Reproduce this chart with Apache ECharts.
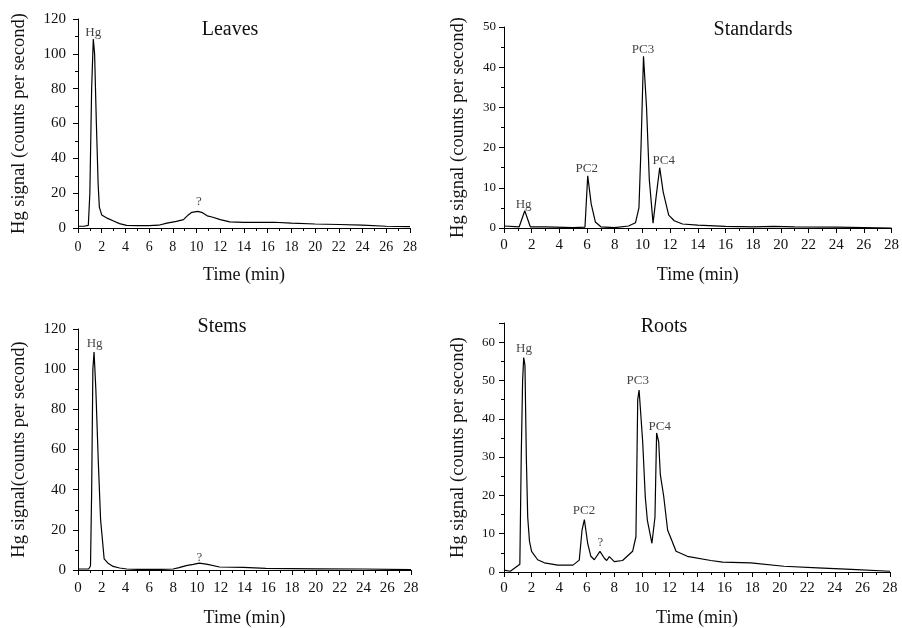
<!DOCTYPE html>
<html><head><meta charset="utf-8">
<script src="https://cdn.jsdelivr.net/npm/echarts@6/dist/echarts.min.js"></script>
<style>html,body{margin:0;padding:0;background:#fff}#c{width:902px;height:628px}</style>
</head><body><div id="c"></div>
<script>
// ---- Data ----
const panelTitles = ['Leaves', 'Standards', 'Stems', 'Roots'];
const yAxisNames = ['Hg signal (counts per second)', 'Hg signal (counts per second)', 'Hg signal(counts per second)', 'Hg signal (counts per second)'];
const xAxisName = 'Time (min)';
const yMax = [120, 50, 120, 65];
const yInterval = [20, 10, 20, 10];

const leavesTime = [0, 0.5, 0.87, 1.0, 1.15, 1.29, 1.4, 1.55, 1.7, 1.8, 2.0, 2.5, 3.0, 3.5, 4.1, 5, 6, 6.8, 7.5, 8.3, 8.9, 9.3, 9.6, 10.1, 10.5, 10.9, 11.3, 12, 12.8, 14, 16.5, 18, 20, 22, 24, 26, 28];
const leavesSignal = [1, 1, 1.5, 20, 80, 108.5, 100, 60, 25, 12, 7.5, 5.5, 4, 2.5, 1.5, 1.4, 1.4, 1.6, 2.8, 3.8, 4.8, 7.5, 9, 9.5, 8.8, 7, 6.3, 4.8, 3.5, 3.2, 3.3, 2.8, 2.3, 2, 1.6, 1, 0.8];

const standardsTime = [0, 1.1, 1.5, 1.9, 3, 5, 5.85, 6.05, 6.3, 6.6, 7, 8, 9, 9.5, 9.75, 9.9, 10.08, 10.3, 10.5, 10.77, 11.0, 11.25, 11.5, 11.9, 12.3, 12.9, 14, 16, 18, 19.5, 21, 24, 28];
const standardsSignal = [0.5, 0.3, 4.3, 0.3, 0.3, 0.1, 0.2, 13, 6, 1.5, 0.3, 0.1, 0.5, 1.3, 5, 20, 42.7, 30, 12, 1.2, 8, 15, 9, 3.2, 1.8, 1, 0.7, 0.4, 0.3, 0.4, 0.3, 0.2, 0];

const stemsTime = [0, 0.9, 1.05, 1.15, 1.25, 1.35, 1.5, 1.7, 1.9, 2.2, 2.5, 2.95, 3.5, 4.1, 5, 6, 7, 8, 8.5, 9.1, 9.7, 10.2, 10.9, 11.9, 13.9, 15.8, 18, 20, 24, 28];
const stemsSignal = [0.5, 0.5, 2, 40, 100, 108.5, 90, 55, 25, 5.5, 3.5, 1.8, 1, 0.5, 0.3, 0.3, 0.3, 0.5, 1.2, 2.2, 2.8, 3.4, 2.8, 1.5, 1.3, 0.8, 0.7, 0.6, 0.5, 0.2];

const rootsTime = [0, 0.46, 1.15, 1.25, 1.35, 1.43, 1.52, 1.62, 1.72, 1.85, 2.0, 2.44, 2.93, 3.9, 5.0, 5.46, 5.66, 5.83, 6.07, 6.3, 6.55, 6.96, 7.28, 7.45, 7.64, 8.0, 8.6, 9.33, 9.57, 9.7, 9.8, 9.9, 10.06, 10.25, 10.4, 10.73, 10.95, 11.07, 11.22, 11.34, 11.58, 11.87, 12.11, 12.48, 13.3, 15.0, 15.86, 17.9, 20.3, 22.75, 25.2, 28];
const rootsSignal = [0.5, 0.2, 2, 30, 50, 56, 54, 30, 14.3, 8, 5.4, 3.2, 2.4, 1.8, 1.8, 3.1, 10.9, 13.7, 7.5, 4.1, 3.2, 5.4, 3.6, 3.0, 4.0, 2.7, 3.0, 5.4, 9.2, 45, 47.5, 48, 34, 19.5, 13.5, 7.5, 14.3, 36.3, 34, 25.4, 19.9, 10.9, 8.8, 5.4, 4.1, 3.0, 2.6, 2.4, 1.5, 1.1, 0.7, 0.2];

// peak annotations: [time, signal, text]
const leavesPeaks = [[1.29, 112, 'Hg'], [10.2, 15, '?']];
const standardsPeaks = [[1.42, 5.9, 'Hg'], [5.98, 14.8, 'PC2'], [10.04, 44.3, 'PC3'], [11.54, 16.7, 'PC4']];
const stemsPeaks = [[1.4, 112.5, 'Hg'], [10.2, 6.3, '?']];
const rootsPeaks = [[1.45, 58.4, 'Hg'], [5.8, 16, 'PC2'], [7.0, 7.6, '?'], [9.7, 50, 'PC3'], [11.3, 38, 'PC4']];

// ---- Layout ----
const FONT = '"Liberation Serif", "DejaVu Serif", serif';
const grids = [
  {left: 78, top: 19, width: 332, height: 209},
  {left: 504, top: 27, width: 389, height: 201},
  {left: 78, top: 329, width: 333, height: 245},
  {left: 504, top: 323, width: 386, height: 253}
];
const yNameGap = [49, 36, 49, 36];
const xNameGap = [38, 38, 39, 37];
const yLabelSize = [15, 13, 15, 13];
const yLabelMargin = [12, 8, 12, 9];
const xLabelSize = [14, 15, 15, 15];
const xLabelMargin = [12, 10, 11, 9];
const titlePos = [[225, 15], [748, 15], [217, 312], [659, 312]];

const times = [leavesTime, standardsTime, stemsTime, rootsTime];
const signals = [leavesSignal, standardsSignal, stemsSignal, rootsSignal];
const peaks = [leavesPeaks, standardsPeaks, stemsPeaks, rootsPeaks];

const axisLine = {show: true, lineStyle: {color: '#000', width: 1}};
const option = {
  backgroundColor: '#fff',
  animation: false,
  title: panelTitles.map((t, i) => ({
    text: t, left: titlePos[i][0], top: titlePos[i][1], textAlign: 'center',
    textStyle: {fontFamily: FONT, fontSize: 20, fontWeight: 'normal', color: '#111'}
  })),
  grid: grids,
  xAxis: grids.map((g, i) => ({
    type: 'value', gridIndex: i, min: 0, max: 28, interval: 2,
    name: xAxisName, nameLocation: 'middle', nameGap: xNameGap[i],
    nameTextStyle: {fontFamily: FONT, fontSize: 18, color: '#111'},
    axisLine: axisLine,
    axisTick: {show: true, length: 5, lineStyle: {color: '#000'}},
    minorTick: {show: true, splitNumber: 2, length: 3, lineStyle: {color: '#000'}},
    axisLabel: {fontFamily: FONT, fontSize: xLabelSize[i], color: '#111', margin: xLabelMargin[i]},
    splitLine: {show: false}
  })),
  yAxis: grids.map((g, i) => ({
    type: 'value', gridIndex: i, min: 0, max: yMax[i], interval: yInterval[i],
    name: yAxisNames[i], nameLocation: 'middle', nameGap: yNameGap[i],
    nameTextStyle: {fontFamily: FONT, fontSize: 18.5, color: '#111'},
    axisLine: axisLine,
    axisTick: {show: true, length: 5, lineStyle: {color: '#000'}},
    minorTick: {show: true, splitNumber: 2, length: 3, lineStyle: {color: '#000'}},
    axisLabel: {fontFamily: FONT, fontSize: yLabelSize[i], color: '#111', margin: yLabelMargin[i],
      formatter: v => (v % yInterval[i] === 0 ? String(v) : '')},
    splitLine: {show: false}
  })),
  series: []
};
for (let i = 0; i < 4; i++) {
  option.series.push({
    type: 'line', xAxisIndex: i, yAxisIndex: i, showSymbol: false, symbol: 'none',
    lineStyle: {color: '#000', width: 1.2}, smooth: false,
    data: times[i].map((t, k) => [t, signals[i][k]])
  });
  option.series.push({
    type: 'scatter', xAxisIndex: i, yAxisIndex: i, symbolSize: 0,
    data: peaks[i].map(p => ({value: [p[0], p[1]], name: p[2]})),
    label: {show: true, position: 'inside', formatter: p => p.name,
      fontFamily: FONT, fontSize: 13, color: '#111'}
  });
}
const chart = echarts.init(document.getElementById('c'), null, {renderer: 'canvas'});
chart.setOption(option);
</script></body></html>
